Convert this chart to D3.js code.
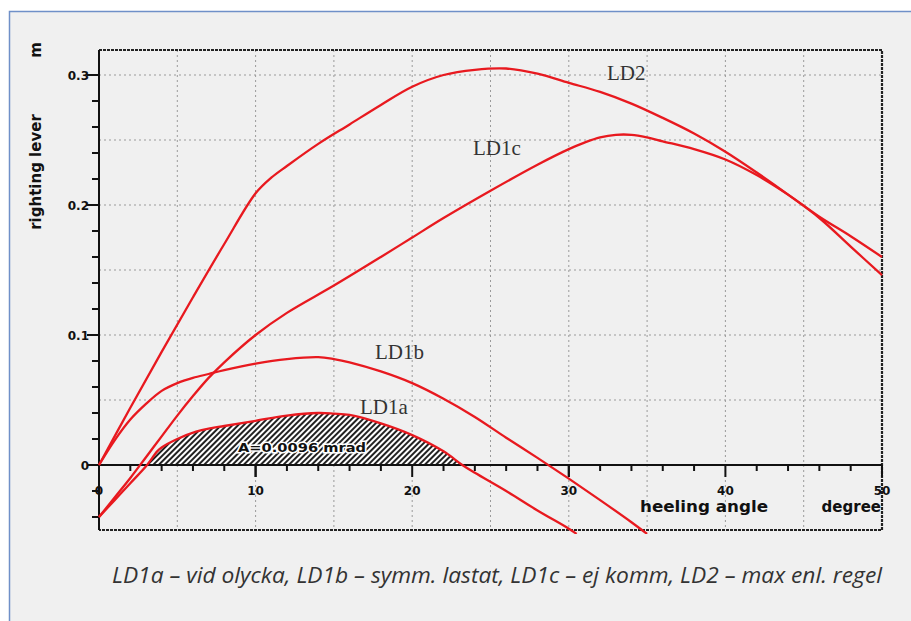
<!DOCTYPE html>
<html>
<head>
<meta charset="utf-8">
<script src="https://cdn.jsdelivr.net/npm/d3@7"></script>
<style>
  body { margin: 0; background: #fff; }
  svg { display: block; }
</style>
</head>
<body>
<svg width="911" height="621"></svg>
<script>
// heeling angle (degree) -> righting lever (m)
var ld2Angle  = [0, 2, 4, 6, 8, 10, 11, 12, 14, 16, 18, 20, 22, 24, 26, 28, 30, 32, 34, 36, 38, 40, 42, 44, 46, 48, 50];
var ld2Lever  = [0, 0.044, 0.087, 0.129, 0.17, 0.209, 0.221, 0.23, 0.247, 0.262, 0.277, 0.291, 0.3, 0.304, 0.305, 0.301, 0.294, 0.287, 0.278, 0.267, 0.255, 0.241, 0.225, 0.208, 0.19, 0.168, 0.146];

var ld1cAngle = [0, 1, 2, 3, 4, 5, 6, 7, 8, 10, 12, 15, 18, 20, 22, 25, 28, 30, 31, 32, 33, 34, 35, 36, 38, 40, 42, 44, 46, 48, 50];
var ld1cLever = [-0.04, -0.025, -0.01, 0.006, 0.022, 0.038, 0.053, 0.067, 0.079, 0.1, 0.117, 0.138, 0.16, 0.175, 0.19, 0.211, 0.231, 0.243, 0.248, 0.252, 0.254, 0.254, 0.252, 0.249, 0.243, 0.235, 0.223, 0.208, 0.191, 0.176, 0.16];

var ld1bAngle = [0, 1, 2, 3, 4, 5, 6, 7, 8, 10, 12, 14, 15, 16, 18, 20, 22, 24, 26, 28, 30, 32, 34, 35];
var ld1bLever = [0, 0.019, 0.035, 0.047, 0.057, 0.063, 0.067, 0.07, 0.073, 0.078, 0.0815, 0.083, 0.0815, 0.079, 0.072, 0.063, 0.051, 0.037, 0.021, 0.0055, -0.0105, -0.027, -0.044, -0.053];

var ld1aAngle = [0, 1, 2, 3.07, 3.7, 4, 5, 6.2, 7, 8, 10, 12, 14, 15, 16, 18, 20, 22, 23.2, 24, 26, 28, 30, 30.5];
var ld1aLever = [-0.04, -0.027, -0.014, 0, 0.0103, 0.0135, 0.02, 0.0256, 0.028, 0.03, 0.034, 0.038, 0.04, 0.0395, 0.0385, 0.032, 0.023, 0.0105, 0, -0.006, -0.02, -0.035, -0.049, -0.053];

var xTicks = [0, 10, 20, 30, 40, 50];
var yTicks = [0, 0.1, 0.2, 0.3];
var curveLabels = ["LD2", "LD1c", "LD1b", "LD1a"];
var caption = "LD1a \u2013 vid olycka, LD1b \u2013 symm. lastat, LD1c \u2013 ej komm, LD2 \u2013 max enl. regel";

var svg = d3.select("svg");

// page background + blue frame (left and top only)
svg.append("rect").attr("x", 9).attr("y", 11).attr("width", 902).attr("height", 610).attr("fill", "#f0f0f0");
svg.append("path").attr("d", "M9.5,621V11.5H911").attr("fill", "none").attr("stroke", "#6f90c8").attr("stroke-width", 1.5);

var x = d3.scaleLinear().domain([0, 50]).range([99, 882]);
var y = d3.scaleLinear().domain([0, 0.3]).range([465, 75]);
var plotTop = 50, plotBottom = 530;

var defs = svg.append("defs");
var pat = defs.append("pattern").attr("id", "hatch").attr("patternUnits", "userSpaceOnUse")
    .attr("width", 4).attr("height", 4).attr("patternTransform", "rotate(45)");
pat.append("rect").attr("width", 4).attr("height", 4).attr("fill", "#fff");
pat.append("rect").attr("width", 2).attr("height", 4).attr("fill", "#222");
defs.append("clipPath").attr("id", "plotclip").append("rect")
    .attr("x", 95).attr("y", plotTop).attr("width", 790).attr("height", plotBottom - plotTop + 4);

// grid
var g = svg.append("g");
g.selectAll(".vg").data(d3.range(5, 50, 5)).enter().append("line")
    .attr("x1", function(d) { return x(d); }).attr("x2", function(d) { return x(d); })
    .attr("y1", plotTop).attr("y2", plotBottom)
    .attr("stroke", "#9a9a9a").attr("stroke-width", 1).attr("stroke-dasharray", "2,3");
g.selectAll(".hg").data([0.05, 0.1, 0.15, 0.2, 0.25, 0.3]).enter().append("line")
    .attr("x1", x(0)).attr("x2", x(50))
    .attr("y1", function(d) { return y(d); }).attr("y2", function(d) { return y(d); })
    .attr("stroke", "#9a9a9a").attr("stroke-width", 1).attr("stroke-dasharray", "2,3");

// hatched area under LD1a (positive part)
var ld1a = ld1aAngle.map(function(a, i) { return [a, ld1aLever[i]]; });
var pos = ld1a.filter(function(p) { return p[1] >= 0; });
var area = d3.area().x(function(d) { return x(d[0]); }).y0(y(0)).y1(function(d) { return y(d[1]); })
    .curve(d3.curveCatmullRom.alpha(0.5));
svg.append("path").datum(pos).attr("d", area).attr("fill", "url(#hatch)");

// frame (dotted top/right/bottom)
svg.append("path").attr("d", "M99," + plotTop + "H882V" + plotBottom + "H99")
    .attr("fill", "none").attr("stroke", "#222").attr("stroke-width", 2.2).attr("stroke-dasharray", "3,1");
svg.append("line").attr("x1", 99).attr("x2", 99).attr("y1", plotTop).attr("y2", plotBottom)
    .attr("stroke", "#111").attr("stroke-width", 2);
svg.append("line").attr("x1", 87).attr("x2", 882).attr("y1", y(0)).attr("y2", y(0))
    .attr("stroke", "#111").attr("stroke-width", 2);

// y ticks
var yMinor = d3.range(-0.04, 0.31, 0.02).map(function(d) { return Math.round(d * 100) / 100; });
svg.selectAll(".yt").data(yMinor).enter().append("line")
    .attr("x1", function(d) { return yTicks.indexOf(d) >= 0 ? 87 : 92; }).attr("x2", 99)
    .attr("y1", function(d) { return y(d); }).attr("y2", function(d) { return y(d); })
    .attr("stroke", "#111").attr("stroke-width", 2);
svg.selectAll(".yl").data(yTicks).enter().append("text")
    .attr("x", 89).attr("y", function(d) { return y(d) + 5; })
    .attr("text-anchor", "end").attr("font-family", "DejaVu Sans").attr("font-weight", "bold")
    .attr("font-size", 12).attr("fill", "#111")
    .text(function(d) { return d === 0 ? "0" : d3.format(".1f")(d); });

// x ticks
svg.selectAll(".xt").data(d3.range(0, 51, 2).concat([10, 30, 50])).enter().append("line")
    .attr("x1", function(d) { return x(d); }).attr("x2", function(d) { return x(d); })
    .attr("y1", y(0)).attr("y2", function(d) { return d % 10 === 0 ? y(0) + 12 : y(0) + 6; })
    .attr("stroke", "#111").attr("stroke-width", 2);
svg.selectAll(".xl").data(xTicks).enter().append("text")
    .attr("x", function(d) { return x(d); }).attr("y", y(0) + 30)
    .attr("text-anchor", "middle").attr("font-family", "DejaVu Sans").attr("font-weight", "bold")
    .attr("font-size", 12).attr("fill", "#111")
    .text(function(d) { return d; });

// axis titles
svg.append("text").attr("transform", "translate(41,172) rotate(-90)")
    .attr("text-anchor", "middle").attr("font-family", "DejaVu Sans").attr("font-weight", "bold")
    .attr("font-size", 15).attr("fill", "#111").text("righting lever");
svg.append("text").attr("transform", "translate(41,50) rotate(-90)")
    .attr("text-anchor", "middle").attr("font-family", "DejaVu Sans").attr("font-weight", "bold")
    .attr("font-size", 15).attr("fill", "#111").text("m");
svg.append("text").attr("x", 640).attr("y", 512)
    .attr("font-family", "DejaVu Sans").attr("font-weight", "bold")
    .attr("font-size", 15).attr("fill", "#111")
    .attr("textLength", 128).attr("lengthAdjust", "spacingAndGlyphs").text("heeling angle");
svg.append("text").attr("x", 881).attr("y", 512).attr("text-anchor", "end")
    .attr("font-family", "DejaVu Sans").attr("font-weight", "bold")
    .attr("font-size", 15).attr("fill", "#111").text("degree");

// curves
var line = d3.line().x(function(d) { return x(d[0]); }).y(function(d) { return y(d[1]); })
    .curve(d3.curveCatmullRom.alpha(0.5));
var series = [[ld2Angle, ld2Lever], [ld1cAngle, ld1cLever], [ld1bAngle, ld1bLever], [ld1aAngle, ld1aLever]];
svg.append("g").attr("clip-path", "url(#plotclip)").selectAll("path").data(series).enter().append("path")
    .attr("d", function(s) { return line(s[0].map(function(a, i) { return [a, s[1][i]]; })); })
    .attr("fill", "none").attr("stroke", "#e8191f").attr("stroke-width", 2.3);

// curve labels
var labelPos = [[607, 80], [473, 155], [375, 359], [360, 414]];
svg.selectAll(".cl").data(curveLabels).enter().append("text")
    .attr("x", function(d, i) { return labelPos[i][0]; }).attr("y", function(d, i) { return labelPos[i][1]; })
    .attr("font-family", "Liberation Serif").attr("font-size", 21).attr("fill", "#333")
    .text(function(d) { return d; });

// area annotation
svg.append("text").attr("x", 238).attr("y", 452)
    .attr("font-family", "DejaVu Sans").attr("font-weight", "bold").attr("font-size", 13)
    .attr("fill", "#111").attr("stroke", "#fff").attr("stroke-width", 3).attr("paint-order", "stroke")
    .attr("textLength", 128).attr("lengthAdjust", "spacingAndGlyphs")
    .text("A=0.0096 mrad");

// caption
svg.append("text").attr("x", 112).attr("y", 583)
    .attr("font-family", "Liberation Sans Narrow, Open Sans").attr("font-style", "italic")
    .attr("font-size", 21).attr("fill", "#333")
    .attr("textLength", 770).attr("lengthAdjust", "spacingAndGlyphs")
    .text(caption);
</script>
</body>
</html>
